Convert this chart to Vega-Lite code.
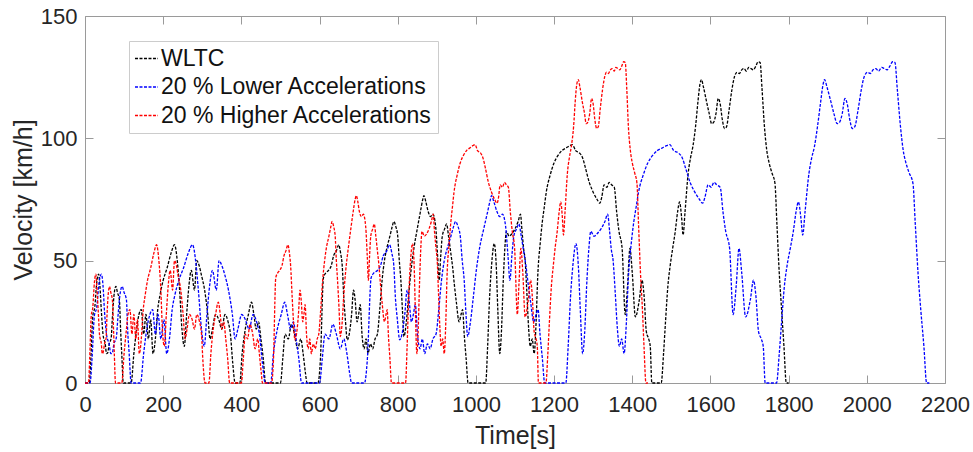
{
"$schema": "https://vega.github.io/schema/vega-lite/v6.json",
"width": 860, "height": 367, "autosize": "none",
"padding": {"left": 85, "top": 16, "right": 28, "bottom": 69},
"background": "white",
"config": {
 "view": {"stroke": "#9a9a9a", "strokeWidth": 1},
 "font": "Liberation Sans",
 "axis": {"grid": false, "domainColor": "#9a9a9a", "tickColor": "#9a9a9a", "labelColor": "#262626", "titleColor": "#262626", "labelFontSize": 22, "titleFontSize": 25, "titleFontWeight": "normal", "tickSize": -8, "labelFlush": false, "labelFont": "Liberation Sans", "titleFont": "Liberation Sans"},
 "legend": {"symbolType": "stroke", "symbolStrokeWidth": 1.5, "symbolSize": 530, "symbolDash": [3, 1.5], "labelFontSize": 23, "labelFont": "Liberation Sans", "labelColor": "#111111", "rowPadding": 3.5, "padding": 5, "strokeColor": "#cccccc", "fillColor": "white", "labelOffset": 2, "labelLimit": 400}
},
"datasets": {
"w": [{"t":0,"v":0},{"t":11,"v":0},{"t":15,"v":10},{"t":20,"v":27.5},{"t":25,"v":31},{"t":30,"v":41},{"t":35,"v":44.5},{"t":38,"v":40},{"t":42,"v":29},{"t":46,"v":20},{"t":52,"v":15.7},{"t":55,"v":12},{"t":58,"v":12.3},{"t":62,"v":16},{"t":67,"v":18.4},{"t":70,"v":26.5},{"t":74,"v":35.5},{"t":79,"v":39.5},{"t":83,"v":37},{"t":88,"v":34},{"t":91,"v":22},{"t":94,"v":12},{"t":98,"v":0},{"t":118,"v":0},{"t":125,"v":12},{"t":132,"v":22},{"t":138,"v":28},{"t":144,"v":30},{"t":150,"v":20},{"t":156,"v":28},{"t":162,"v":18},{"t":168,"v":26},{"t":174,"v":12},{"t":180,"v":18},{"t":186,"v":30},{"t":192,"v":36},{"t":200,"v":42},{"t":210,"v":47},{"t":220,"v":53},{"t":229,"v":56.5},{"t":236,"v":50},{"t":242,"v":38},{"t":248,"v":22},{"t":254,"v":15},{"t":260,"v":28},{"t":266,"v":40},{"t":272,"v":46},{"t":280,"v":38},{"t":286,"v":50},{"t":292,"v":48},{"t":298,"v":44},{"t":306,"v":38},{"t":314,"v":28},{"t":320,"v":18},{"t":326,"v":22},{"t":334,"v":28},{"t":342,"v":26},{"t":350,"v":22},{"t":358,"v":28},{"t":366,"v":25},{"t":372,"v":20},{"t":378,"v":8},{"t":384,"v":0},{"t":396,"v":0},{"t":402,"v":12},{"t":410,"v":22},{"t":418,"v":28},{"t":426,"v":33},{"t":432,"v":28},{"t":438,"v":22},{"t":444,"v":25},{"t":450,"v":18},{"t":456,"v":10},{"t":462,"v":0},{"t":500,"v":0},{"t":506,"v":10},{"t":512,"v":20},{"t":520,"v":18},{"t":528,"v":24},{"t":536,"v":20},{"t":544,"v":14},{"t":552,"v":18},{"t":558,"v":12},{"t":564,"v":4},{"t":568,"v":0},{"t":596,"v":0},{"t":602,"v":9},{"t":610,"v":43},{"t":616,"v":45},{"t":623,"v":46},{"t":630,"v":48},{"t":636,"v":52},{"t":643,"v":54},{"t":649,"v":56.5},{"t":654,"v":53},{"t":658,"v":48},{"t":662,"v":35},{"t":666,"v":26},{"t":671,"v":17.6},{"t":676,"v":20},{"t":682,"v":28},{"t":687,"v":38},{"t":691,"v":34},{"t":696,"v":25},{"t":700,"v":28},{"t":704,"v":32},{"t":709,"v":19},{"t":714,"v":14},{"t":719,"v":18},{"t":724,"v":12},{"t":730,"v":16},{"t":736,"v":14},{"t":742,"v":18},{"t":748,"v":20},{"t":754,"v":30},{"t":760,"v":42},{"t":766,"v":50},{"t":773,"v":55.7},{"t":780,"v":60},{"t":786,"v":64},{"t":790,"v":66},{"t":795,"v":64},{"t":800,"v":60},{"t":804,"v":50},{"t":808,"v":42},{"t":812,"v":30},{"t":816,"v":19},{"t":822,"v":25},{"t":828,"v":36},{"t":834,"v":46},{"t":842,"v":55.7},{"t":850,"v":63},{"t":858,"v":70},{"t":864,"v":75},{"t":867,"v":76.6},{"t":872,"v":74},{"t":878,"v":70},{"t":884,"v":68},{"t":890,"v":69},{"t":897,"v":64},{"t":902,"v":52},{"t":906,"v":42},{"t":910,"v":52},{"t":914,"v":60},{"t":920,"v":63},{"t":925,"v":65},{"t":930,"v":60},{"t":935,"v":54},{"t":940,"v":48},{"t":945,"v":40},{"t":950,"v":33},{"t":957,"v":25},{"t":962,"v":28},{"t":966,"v":30},{"t":970,"v":20},{"t":975,"v":10},{"t":980,"v":0},{"t":1025,"v":0},{"t":1030,"v":15},{"t":1035,"v":35},{"t":1040,"v":48},{"t":1047,"v":57},{"t":1052,"v":48},{"t":1056,"v":30},{"t":1061,"v":12},{"t":1065,"v":20},{"t":1070,"v":42},{"t":1074,"v":55},{"t":1078,"v":62},{"t":1085,"v":60},{"t":1092,"v":61},{"t":1100,"v":63},{"t":1108,"v":66},{"t":1114,"v":69},{"t":1118,"v":62},{"t":1122,"v":55},{"t":1126,"v":50},{"t":1130,"v":38},{"t":1135,"v":22},{"t":1139,"v":15},{"t":1144,"v":18},{"t":1149,"v":12},{"t":1154,"v":25},{"t":1158,"v":43},{"t":1165,"v":58},{"t":1170,"v":66},{"t":1175,"v":72},{"t":1180,"v":78},{"t":1190,"v":85},{"t":1200,"v":90},{"t":1210,"v":93},{"t":1220,"v":95},{"t":1230,"v":96},{"t":1240,"v":97},{"t":1247,"v":97.4},{"t":1255,"v":95},{"t":1265,"v":94},{"t":1273,"v":92},{"t":1280,"v":88},{"t":1290,"v":82},{"t":1300,"v":78},{"t":1310,"v":75},{"t":1317,"v":73.5},{"t":1322,"v":76},{"t":1328,"v":81},{"t":1335,"v":80},{"t":1341,"v":82},{"t":1347,"v":81},{"t":1354,"v":80},{"t":1360,"v":70},{"t":1366,"v":62},{"t":1374,"v":55},{"t":1382,"v":28},{"t":1388,"v":40},{"t":1394,"v":55},{"t":1400,"v":45},{"t":1408,"v":27},{"t":1418,"v":34},{"t":1425,"v":42},{"t":1430,"v":36},{"t":1436,"v":21},{"t":1442,"v":18},{"t":1446,"v":15},{"t":1450,"v":0},{"t":1474,"v":0},{"t":1480,"v":12},{"t":1485,"v":25},{"t":1491,"v":39.4},{"t":1497,"v":48},{"t":1504,"v":55.7},{"t":1510,"v":62},{"t":1516,"v":70},{"t":1521,"v":74},{"t":1526,"v":68},{"t":1530,"v":60.5},{"t":1535,"v":70},{"t":1543,"v":85.7},{"t":1549,"v":92},{"t":1555,"v":96.6},{"t":1562,"v":105},{"t":1568,"v":115},{"t":1573,"v":122},{"t":1577,"v":124},{"t":1582,"v":121},{"t":1590,"v":115},{"t":1597,"v":110},{"t":1603,"v":106},{"t":1608,"v":106.5},{"t":1614,"v":110},{"t":1620,"v":116.3},{"t":1625,"v":114},{"t":1630,"v":108},{"t":1636,"v":104},{"t":1641,"v":104.7},{"t":1648,"v":112},{"t":1655,"v":120},{"t":1662,"v":125.5},{"t":1668,"v":127},{"t":1674,"v":126.5},{"t":1680,"v":128},{"t":1686,"v":128.5},{"t":1692,"v":127.5},{"t":1698,"v":129},{"t":1704,"v":128.5},{"t":1710,"v":128},{"t":1716,"v":129.5},{"t":1722,"v":131.3},{"t":1727,"v":131},{"t":1732,"v":120},{"t":1738,"v":105},{"t":1744,"v":95.2},{"t":1750,"v":90},{"t":1757,"v":86},{"t":1765,"v":81.6},{"t":1770,"v":65},{"t":1776,"v":45},{"t":1782,"v":30},{"t":1788,"v":15},{"t":1794,"v":0},{"t":1800,"v":0}],
"l": [{"t":0,"v":0},{"t":13,"v":0},{"t":18,"v":10},{"t":24,"v":27.5},{"t":30,"v":31},{"t":36,"v":41},{"t":42,"v":44.5},{"t":46,"v":40},{"t":50,"v":29},{"t":55,"v":20},{"t":62,"v":15.7},{"t":66,"v":12},{"t":70,"v":12.3},{"t":74,"v":16},{"t":80,"v":18.4},{"t":84,"v":26.5},{"t":89,"v":35.5},{"t":95,"v":39.5},{"t":100,"v":37},{"t":106,"v":34},{"t":109,"v":22},{"t":113,"v":12},{"t":118,"v":0},{"t":142,"v":0},{"t":150,"v":12},{"t":158,"v":22},{"t":166,"v":28},{"t":173,"v":30},{"t":180,"v":20},{"t":187,"v":28},{"t":194,"v":18},{"t":202,"v":26},{"t":209,"v":12},{"t":216,"v":18},{"t":223,"v":30},{"t":230,"v":36},{"t":240,"v":42},{"t":252,"v":47},{"t":264,"v":53},{"t":275,"v":56.5},{"t":283,"v":50},{"t":290,"v":38},{"t":298,"v":22},{"t":305,"v":15},{"t":312,"v":28},{"t":319,"v":40},{"t":326,"v":46},{"t":336,"v":38},{"t":343,"v":50},{"t":350,"v":48},{"t":358,"v":44},{"t":367,"v":38},{"t":377,"v":28},{"t":384,"v":18},{"t":391,"v":22},{"t":401,"v":28},{"t":410,"v":26},{"t":420,"v":22},{"t":430,"v":28},{"t":439,"v":25},{"t":446,"v":20},{"t":454,"v":8},{"t":461,"v":0},{"t":475,"v":0},{"t":482,"v":12},{"t":492,"v":22},{"t":502,"v":28},{"t":511,"v":33},{"t":518,"v":28},{"t":526,"v":22},{"t":533,"v":25},{"t":540,"v":18},{"t":547,"v":10},{"t":554,"v":0},{"t":600,"v":0},{"t":607,"v":10},{"t":614,"v":20},{"t":624,"v":18},{"t":634,"v":24},{"t":643,"v":20},{"t":653,"v":14},{"t":662,"v":18},{"t":670,"v":12},{"t":677,"v":4},{"t":682,"v":0},{"t":715,"v":0},{"t":722,"v":9},{"t":732,"v":43},{"t":739,"v":45},{"t":748,"v":46},{"t":756,"v":48},{"t":763,"v":52},{"t":772,"v":54},{"t":779,"v":56.5},{"t":785,"v":53},{"t":790,"v":48},{"t":794,"v":35},{"t":799,"v":26},{"t":805,"v":17.6},{"t":811,"v":20},{"t":818,"v":28},{"t":824,"v":38},{"t":829,"v":34},{"t":835,"v":25},{"t":840,"v":28},{"t":845,"v":32},{"t":851,"v":19},{"t":857,"v":14},{"t":863,"v":18},{"t":869,"v":12},{"t":876,"v":16},{"t":883,"v":14},{"t":890,"v":18},{"t":898,"v":20},{"t":905,"v":30},{"t":912,"v":42},{"t":919,"v":50},{"t":928,"v":55.7},{"t":936,"v":60},{"t":943,"v":64},{"t":948,"v":66},{"t":954,"v":64},{"t":960,"v":60},{"t":965,"v":50},{"t":970,"v":42},{"t":974,"v":30},{"t":979,"v":19},{"t":986,"v":25},{"t":994,"v":36},{"t":1001,"v":46},{"t":1010,"v":55.7},{"t":1020,"v":63},{"t":1030,"v":70},{"t":1037,"v":75},{"t":1040,"v":76.6},{"t":1046,"v":74},{"t":1054,"v":70},{"t":1061,"v":68},{"t":1068,"v":69},{"t":1076,"v":64},{"t":1082,"v":52},{"t":1087,"v":42},{"t":1092,"v":52},{"t":1097,"v":60},{"t":1104,"v":63},{"t":1110,"v":65},{"t":1116,"v":60},{"t":1122,"v":54},{"t":1128,"v":48},{"t":1134,"v":40},{"t":1140,"v":33},{"t":1148,"v":25},{"t":1154,"v":28},{"t":1159,"v":30},{"t":1164,"v":20},{"t":1170,"v":10},{"t":1176,"v":0},{"t":1230,"v":0},{"t":1236,"v":15},{"t":1242,"v":35},{"t":1248,"v":48},{"t":1256,"v":57},{"t":1262,"v":48},{"t":1267,"v":30},{"t":1273,"v":12},{"t":1278,"v":20},{"t":1284,"v":42},{"t":1289,"v":55},{"t":1294,"v":62},{"t":1302,"v":60},{"t":1310,"v":61},{"t":1320,"v":63},{"t":1330,"v":66},{"t":1337,"v":69},{"t":1342,"v":62},{"t":1346,"v":55},{"t":1351,"v":50},{"t":1356,"v":38},{"t":1362,"v":22},{"t":1367,"v":15},{"t":1373,"v":18},{"t":1379,"v":12},{"t":1385,"v":25},{"t":1390,"v":43},{"t":1398,"v":58},{"t":1404,"v":66},{"t":1410,"v":72},{"t":1416,"v":78},{"t":1428,"v":85},{"t":1440,"v":90},{"t":1452,"v":93},{"t":1464,"v":95},{"t":1476,"v":96},{"t":1488,"v":97},{"t":1496,"v":97.4},{"t":1506,"v":95},{"t":1518,"v":94},{"t":1528,"v":92},{"t":1536,"v":88},{"t":1548,"v":82},{"t":1560,"v":78},{"t":1572,"v":75},{"t":1580,"v":73.5},{"t":1586,"v":76},{"t":1594,"v":81},{"t":1602,"v":80},{"t":1609,"v":82},{"t":1616,"v":81},{"t":1625,"v":80},{"t":1632,"v":70},{"t":1639,"v":62},{"t":1649,"v":55},{"t":1658,"v":28},{"t":1666,"v":40},{"t":1673,"v":55},{"t":1680,"v":45},{"t":1690,"v":27},{"t":1702,"v":34},{"t":1710,"v":42},{"t":1716,"v":36},{"t":1723,"v":21},{"t":1730,"v":18},{"t":1735,"v":15},{"t":1740,"v":0},{"t":1769,"v":0},{"t":1776,"v":12},{"t":1782,"v":25},{"t":1789,"v":39.4},{"t":1796,"v":48},{"t":1805,"v":55.7},{"t":1812,"v":62},{"t":1819,"v":70},{"t":1825,"v":74},{"t":1831,"v":68},{"t":1836,"v":60.5},{"t":1842,"v":70},{"t":1852,"v":85.7},{"t":1859,"v":92},{"t":1866,"v":96.6},{"t":1874,"v":105},{"t":1882,"v":115},{"t":1888,"v":122},{"t":1892,"v":124},{"t":1898,"v":121},{"t":1908,"v":115},{"t":1916,"v":110},{"t":1924,"v":106},{"t":1930,"v":106.5},{"t":1937,"v":110},{"t":1944,"v":116.3},{"t":1950,"v":114},{"t":1956,"v":108},{"t":1963,"v":104},{"t":1969,"v":104.7},{"t":1978,"v":112},{"t":1986,"v":120},{"t":1994,"v":125.5},{"t":2002,"v":127},{"t":2009,"v":126.5},{"t":2016,"v":128},{"t":2023,"v":128.5},{"t":2030,"v":127.5},{"t":2038,"v":129},{"t":2045,"v":128.5},{"t":2052,"v":128},{"t":2059,"v":129.5},{"t":2066,"v":131.3},{"t":2072,"v":131},{"t":2078,"v":120},{"t":2086,"v":105},{"t":2093,"v":95.2},{"t":2100,"v":90},{"t":2108,"v":86},{"t":2118,"v":81.6},{"t":2124,"v":65},{"t":2131,"v":45},{"t":2138,"v":30},{"t":2146,"v":15},{"t":2153,"v":0},{"t":2160,"v":0}],
"h": [{"t":0,"v":0},{"t":9,"v":0},{"t":12,"v":10},{"t":16,"v":27.5},{"t":20,"v":31},{"t":24,"v":41},{"t":28,"v":44.5},{"t":30,"v":40},{"t":34,"v":29},{"t":37,"v":20},{"t":42,"v":15.7},{"t":44,"v":12},{"t":46,"v":12.3},{"t":50,"v":16},{"t":54,"v":18.4},{"t":56,"v":26.5},{"t":59,"v":35.5},{"t":63,"v":39.5},{"t":66,"v":37},{"t":70,"v":34},{"t":73,"v":22},{"t":75,"v":12},{"t":78,"v":0},{"t":94,"v":0},{"t":100,"v":12},{"t":106,"v":22},{"t":110,"v":28},{"t":115,"v":30},{"t":120,"v":20},{"t":125,"v":28},{"t":130,"v":18},{"t":134,"v":26},{"t":139,"v":12},{"t":144,"v":18},{"t":149,"v":30},{"t":154,"v":36},{"t":160,"v":42},{"t":168,"v":47},{"t":176,"v":53},{"t":183,"v":56.5},{"t":189,"v":50},{"t":194,"v":38},{"t":198,"v":22},{"t":203,"v":15},{"t":208,"v":28},{"t":213,"v":40},{"t":218,"v":46},{"t":224,"v":38},{"t":229,"v":50},{"t":234,"v":48},{"t":238,"v":44},{"t":245,"v":38},{"t":251,"v":28},{"t":256,"v":18},{"t":261,"v":22},{"t":267,"v":28},{"t":274,"v":26},{"t":280,"v":22},{"t":286,"v":28},{"t":293,"v":25},{"t":298,"v":20},{"t":302,"v":8},{"t":307,"v":0},{"t":317,"v":0},{"t":322,"v":12},{"t":328,"v":22},{"t":334,"v":28},{"t":341,"v":33},{"t":346,"v":28},{"t":350,"v":22},{"t":355,"v":25},{"t":360,"v":18},{"t":365,"v":10},{"t":370,"v":0},{"t":400,"v":0},{"t":405,"v":10},{"t":410,"v":20},{"t":416,"v":18},{"t":422,"v":24},{"t":429,"v":20},{"t":435,"v":14},{"t":442,"v":18},{"t":446,"v":12},{"t":451,"v":4},{"t":454,"v":0},{"t":477,"v":0},{"t":482,"v":9},{"t":488,"v":43},{"t":493,"v":45},{"t":498,"v":46},{"t":504,"v":48},{"t":509,"v":52},{"t":514,"v":54},{"t":519,"v":56.5},{"t":523,"v":53},{"t":526,"v":48},{"t":530,"v":35},{"t":533,"v":26},{"t":537,"v":17.6},{"t":541,"v":20},{"t":546,"v":28},{"t":550,"v":38},{"t":553,"v":34},{"t":557,"v":25},{"t":560,"v":28},{"t":563,"v":32},{"t":567,"v":19},{"t":571,"v":14},{"t":575,"v":18},{"t":579,"v":12},{"t":584,"v":16},{"t":589,"v":14},{"t":594,"v":18},{"t":598,"v":20},{"t":603,"v":30},{"t":608,"v":42},{"t":613,"v":50},{"t":618,"v":55.7},{"t":624,"v":60},{"t":629,"v":64},{"t":632,"v":66},{"t":636,"v":64},{"t":640,"v":60},{"t":643,"v":50},{"t":646,"v":42},{"t":650,"v":30},{"t":653,"v":19},{"t":658,"v":25},{"t":662,"v":36},{"t":667,"v":46},{"t":674,"v":55.7},{"t":680,"v":63},{"t":686,"v":70},{"t":691,"v":75},{"t":694,"v":76.6},{"t":698,"v":74},{"t":702,"v":70},{"t":707,"v":68},{"t":712,"v":69},{"t":718,"v":64},{"t":722,"v":52},{"t":725,"v":42},{"t":728,"v":52},{"t":731,"v":60},{"t":736,"v":63},{"t":740,"v":65},{"t":744,"v":60},{"t":748,"v":54},{"t":752,"v":48},{"t":756,"v":40},{"t":760,"v":33},{"t":766,"v":25},{"t":770,"v":28},{"t":773,"v":30},{"t":776,"v":20},{"t":780,"v":10},{"t":784,"v":0},{"t":820,"v":0},{"t":824,"v":15},{"t":828,"v":35},{"t":832,"v":48},{"t":838,"v":57},{"t":842,"v":48},{"t":845,"v":30},{"t":849,"v":12},{"t":852,"v":20},{"t":856,"v":42},{"t":859,"v":55},{"t":862,"v":62},{"t":868,"v":60},{"t":874,"v":61},{"t":880,"v":63},{"t":886,"v":66},{"t":891,"v":69},{"t":894,"v":62},{"t":898,"v":55},{"t":901,"v":50},{"t":904,"v":38},{"t":908,"v":22},{"t":911,"v":15},{"t":915,"v":18},{"t":919,"v":12},{"t":923,"v":25},{"t":926,"v":43},{"t":932,"v":58},{"t":936,"v":66},{"t":940,"v":72},{"t":944,"v":78},{"t":952,"v":85},{"t":960,"v":90},{"t":968,"v":93},{"t":976,"v":95},{"t":984,"v":96},{"t":992,"v":97},{"t":998,"v":97.4},{"t":1004,"v":95},{"t":1012,"v":94},{"t":1018,"v":92},{"t":1024,"v":88},{"t":1032,"v":82},{"t":1040,"v":78},{"t":1048,"v":75},{"t":1054,"v":73.5},{"t":1058,"v":76},{"t":1062,"v":81},{"t":1068,"v":80},{"t":1073,"v":82},{"t":1078,"v":81},{"t":1083,"v":80},{"t":1088,"v":70},{"t":1093,"v":62},{"t":1099,"v":55},{"t":1106,"v":28},{"t":1110,"v":40},{"t":1115,"v":55},{"t":1120,"v":45},{"t":1126,"v":27},{"t":1134,"v":34},{"t":1140,"v":42},{"t":1144,"v":36},{"t":1149,"v":21},{"t":1154,"v":18},{"t":1157,"v":15},{"t":1160,"v":0},{"t":1179,"v":0},{"t":1184,"v":12},{"t":1188,"v":25},{"t":1193,"v":39.4},{"t":1198,"v":48},{"t":1203,"v":55.7},{"t":1208,"v":62},{"t":1213,"v":70},{"t":1217,"v":74},{"t":1221,"v":68},{"t":1224,"v":60.5},{"t":1228,"v":70},{"t":1234,"v":85.7},{"t":1239,"v":92},{"t":1244,"v":96.6},{"t":1250,"v":105},{"t":1254,"v":115},{"t":1258,"v":122},{"t":1262,"v":124},{"t":1266,"v":121},{"t":1272,"v":115},{"t":1278,"v":110},{"t":1282,"v":106},{"t":1286,"v":106.5},{"t":1291,"v":110},{"t":1296,"v":116.3},{"t":1300,"v":114},{"t":1304,"v":108},{"t":1309,"v":104},{"t":1313,"v":104.7},{"t":1318,"v":112},{"t":1324,"v":120},{"t":1330,"v":125.5},{"t":1334,"v":127},{"t":1339,"v":126.5},{"t":1344,"v":128},{"t":1349,"v":128.5},{"t":1354,"v":127.5},{"t":1358,"v":129},{"t":1363,"v":128.5},{"t":1368,"v":128},{"t":1373,"v":129.5},{"t":1378,"v":131.3},{"t":1382,"v":131},{"t":1386,"v":120},{"t":1390,"v":105},{"t":1395,"v":95.2},{"t":1400,"v":90},{"t":1406,"v":86},{"t":1412,"v":81.6},{"t":1416,"v":65},{"t":1421,"v":45},{"t":1426,"v":30},{"t":1430,"v":15},{"t":1435,"v":0},{"t":1440,"v":0}]
},
"layer": [
 {"data": {"name": "w"},
  "mark": {"type": "line", "strokeWidth": 1.3, "strokeDash": [3, 1.5], "interpolate": "monotone"},
  "encoding": {
   "x": {"field": "t", "type": "quantitative", "scale": {"domain": [0, 2200], "nice": false}, "axis": {"orient": "bottom", "values": [0,200,400,600,800,1000,1200,1400,1600,1800,2000,2200], "format": "d", "title": "Time[s]", "labelPadding": 19, "titlePadding": 8, "domain": false}},
   "y": {"field": "v", "type": "quantitative", "scale": {"domain": [0, 150], "nice": false}, "axis": {"orient": "left", "values": [0,50,100,150], "format": "d", "title": "Velocity [km/h]", "labelPadding": 16, "titlePadding": 4, "domain": false}},
   "color": {"datum": "WLTC", "type": "nominal", "scale": {"domain": ["WLTC", "20 % Lower Accelerations", "20 % Higher Accelerations"], "range": ["#000000", "#0000ff", "#ff0000"]}, "legend": {"title": null, "orient": "none", "legendX": 44, "legendY": 25}}
  }},
 {"data": {"name": "l"},
  "mark": {"type": "line", "strokeWidth": 1.3, "strokeDash": [3, 1.5], "interpolate": "monotone"},
  "encoding": {
   "x": {"field": "t", "type": "quantitative", "axis": null},
   "y": {"field": "v", "type": "quantitative", "axis": null},
   "color": {"datum": "20 % Lower Accelerations", "type": "nominal"}
  }},
 {"data": {"name": "h"},
  "mark": {"type": "line", "strokeWidth": 1.3, "strokeDash": [3, 1.5], "interpolate": "monotone"},
  "encoding": {
   "x": {"field": "t", "type": "quantitative", "axis": null},
   "y": {"field": "v", "type": "quantitative", "axis": null},
   "color": {"datum": "20 % Higher Accelerations", "type": "nominal"}
  }},
 {"data": {"name": "w"},
  "mark": {"type": "point", "opacity": 0},
  "encoding": {
   "x": {"field": "t", "type": "quantitative", "axis": {"orient": "top", "values": [0,200,400,600,800,1000,1200,1400,1600,1800,2000,2200], "labels": false, "title": null, "domain": false}},
   "y": {"field": "v", "type": "quantitative", "axis": {"orient": "right", "values": [0,50,100,150], "labels": false, "title": null, "domain": false}}
  }}
],
"resolve": {"axis": {"x": "independent", "y": "independent"}}
}
